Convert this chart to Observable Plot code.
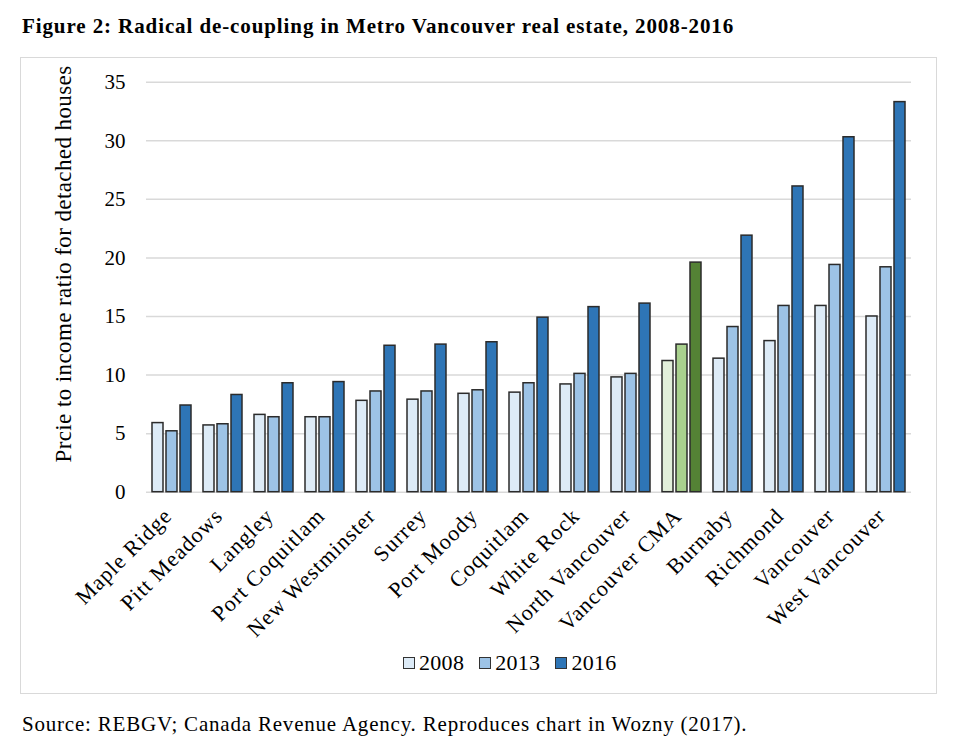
<!DOCTYPE html>
<html>
<head>
<meta charset="utf-8">
<script src="https://cdn.jsdelivr.net/npm/d3@7"></script>
<script src="https://cdn.jsdelivr.net/npm/@observablehq/plot@0.6"></script>
<style>
  html, body { margin: 0; padding: 0; background: #fff; }
  body { position: relative; width: 960px; height: 747px; overflow: hidden; font-family: "Liberation Serif", serif; color: #000; }
  #title { position: absolute; left: 22px; top: 16px; font-size: 21px; line-height: 21px; letter-spacing: 0.9px; font-weight: bold; white-space: nowrap; }
  #frame { position: absolute; left: 20px; top: 57px; width: 915px; height: 635px; border: 1px solid #d9d9d9; }
  #chart { position: absolute; left: 0; top: 60px; }
  #ylabel { position: absolute; left: -186px; top: 252px; width: 500px; height: 24px; line-height: 24px; font-size: 23px; letter-spacing: 0.4px; text-align: center; white-space: nowrap; transform: rotate(-90deg); }
  #legend { position: absolute; left: 403px; top: 651px; display: flex; gap: 15px; font-size: 22px; line-height: 24px; letter-spacing: 0.3px; }
  #legend .item { display: flex; align-items: center; }
  #legend .sw { width: 10px; height: 10px; border: 1.5px solid #333; margin-right: 4px; }
  #source { position: absolute; left: 22px; top: 714px; font-size: 21px; line-height: 21px; letter-spacing: 0.8px; white-space: nowrap; }
</style>
</head>
<body>
<div id="title">Figure 2: Radical de-coupling in Metro Vancouver real estate, 2008-2016</div>
<div id="frame"></div>
<div id="chart"></div>
<div id="ylabel">Prcie to income ratio for detached houses</div>
<div id="legend"></div>
<div id="source">Source: REBGV; Canada Revenue Agency. Reproduces chart in Wozny (2017).</div>
<script>
const categories = ["Maple Ridge", "Pitt Meadows", "Langley", "Port Coquitlam", "New Westminster", "Surrey", "Port Moody", "Coquitlam", "White Rock", "North Vancouver", "Vancouver CMA", "Burnaby", "Richmond", "Vancouver", "West Vancouver"];
const years = ["2008", "2013", "2016"];
const v2008 = [5.9, 5.7, 6.6, 6.4, 7.8, 7.9, 8.4, 8.5, 9.2, 9.8, 11.2, 11.4, 12.9, 15.9, 15.0];
const v2013 = [5.2, 5.8, 6.4, 6.4, 8.6, 8.6, 8.7, 9.3, 10.1, 10.1, 12.6, 14.1, 15.9, 19.4, 19.2];
const v2016 = [7.4, 8.3, 9.3, 9.4, 12.5, 12.6, 12.8, 14.9, 15.8, 16.1, 19.6, 21.9, 26.1, 30.3, 33.3];
const yTicks = [0, 5, 10, 15, 20, 25, 30, 35];
const blueColors = ["#ddebf7", "#9dc3e6", "#2e75b6"];
const greenColors = ["#e2efda", "#a9d18e", "#548235"];
const highlight = "Vancouver CMA";

const series = [v2008, v2013, v2016];
const data = [];
categories.forEach((c, i) => {
  years.forEach((y, j) => {
    data.push({category: c, year: y, value: series[j][i], color: (c === highlight ? greenColors : blueColors)[j]});
  });
});

const fontFamily = "Liberation Serif";
const chart = Plot.plot({
  width: 960,
  height: 600,
  marginLeft: 144,
  marginRight: 47,
  marginTop: 21.7,
  marginBottom: 168.3,
  style: {fontFamily, fontSize: "21px", color: "#000", background: "transparent"},
  fx: {domain: categories, paddingInner: 0, paddingOuter: 0, axis: null, label: null},
  x: {domain: years, paddingInner: 0.2, paddingOuter: 0.31, axis: null},
  y: {domain: [0, 35], axis: null},
  color: {type: "identity"},
  marks: [
    Plot.ruleY(yTicks, {y: d => d, stroke: "#d9d9d9", strokeWidth: 1.5}),
    Plot.barY(data, {fx: "category", x: "year", y: "value", fill: "color", stroke: "#2b2b2b", strokeWidth: 1.5}),
    Plot.axisY({ticks: yTicks, tickSize: 0, tickPadding: 21, fontSize: 21, label: null}),
    Plot.text(categories, {fx: d => d, text: d => d, frameAnchor: "bottom", rotate: -45, textAnchor: "end", dx: 1, dy: 25, fontSize: 22})
  ]
});
chart.querySelectorAll("g[aria-label='text']").forEach(g => g.setAttribute("letter-spacing", "1"));
document.getElementById("chart").appendChild(chart);

const legend = document.getElementById("legend");
years.forEach((y, j) => {
  const item = document.createElement("div");
  item.className = "item";
  const sw = document.createElement("span");
  sw.className = "sw";
  sw.style.background = blueColors[j];
  const t = document.createElement("span");
  t.textContent = y;
  item.appendChild(sw);
  item.appendChild(t);
  legend.appendChild(item);
});
</script>
</body>
</html>
